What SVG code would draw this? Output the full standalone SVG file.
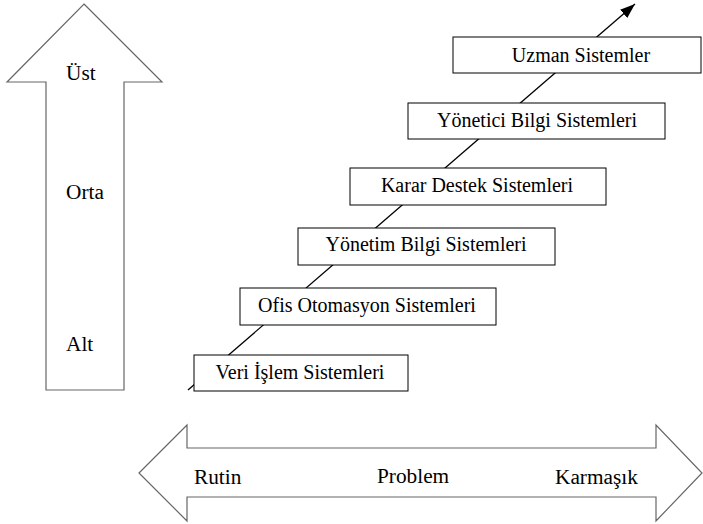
<svg xmlns="http://www.w3.org/2000/svg" width="703" height="524" viewBox="0 0 703 524">
<style>
text { font-family: "Liberation Serif", "Times New Roman", serif; fill: #000; }
.big { font-size: 21.3px; }
.box { fill: #fff; stroke: #000; stroke-width: 1; }
.boxtxt { font-size: 20px; text-anchor: middle; }
.shape { fill: #fff; stroke: #666; stroke-width: 1.2; }
</style>
<defs>
<marker id="ah" markerUnits="userSpaceOnUse" markerWidth="15" markerHeight="11" refX="15" refY="5.5" orient="auto">
<path d="M0,0 L15,5.5 L0,11 z" fill="#000"/>
</marker>
</defs>
<rect width="703" height="524" fill="#fff"/>
<g id="level-arrow">
<polygon class="shape" points="84,4 162,82 124,82 124,390 46,390 46,82 7,82"/>
<text class="big" x="66" y="80">Üst</text>
<text class="big" x="66" y="199">Orta</text>
<text class="big" x="66" y="351">Alt</text>
</g>
<g id="problem-arrow">
<polygon class="shape" points="139,473 187,425 187,448 656,448 656,425 702,473 656,521 656,497 187,497 187,521"/>
<text class="big" x="194" y="484">Rutin</text>
<text class="big" x="377" y="483">Problem</text>
<text class="big" x="555" y="484">Karmaşık</text>
</g>
<g id="connectors">
<line x1="188" y1="390" x2="635" y2="4" stroke="#000" stroke-width="1.3" marker-end="url(#ah)"/>
</g>
<g id="node-veri">
<rect class="box" x="194" y="355" width="214" height="36"/>
<text class="boxtxt" x="300" y="379">Veri İşlem Sistemleri</text>
</g>
<g id="node-ofis">
<rect class="box" x="240" y="288" width="256" height="37"/>
<text class="boxtxt" x="367" y="312">Ofis Otomasyon Sistemleri</text>
</g>
<g id="node-yonetim">
<rect class="box" x="298" y="228" width="257" height="37"/>
<text class="boxtxt" x="426" y="251">Yönetim Bilgi Sistemleri</text>
</g>
<g id="node-karar">
<rect class="box" x="350" y="168" width="256" height="37"/>
<text class="boxtxt" x="477" y="192">Karar Destek Sistemleri</text>
</g>
<g id="node-yonetici">
<rect class="box" x="408" y="103" width="257" height="36"/>
<text class="boxtxt" x="537" y="127">Yönetici Bilgi Sistemleri</text>
</g>
<g id="node-uzman">
<rect class="box" x="453" y="37" width="248" height="36"/>
<text class="boxtxt" x="581" y="62">Uzman Sistemler</text>
</g>
</svg>
